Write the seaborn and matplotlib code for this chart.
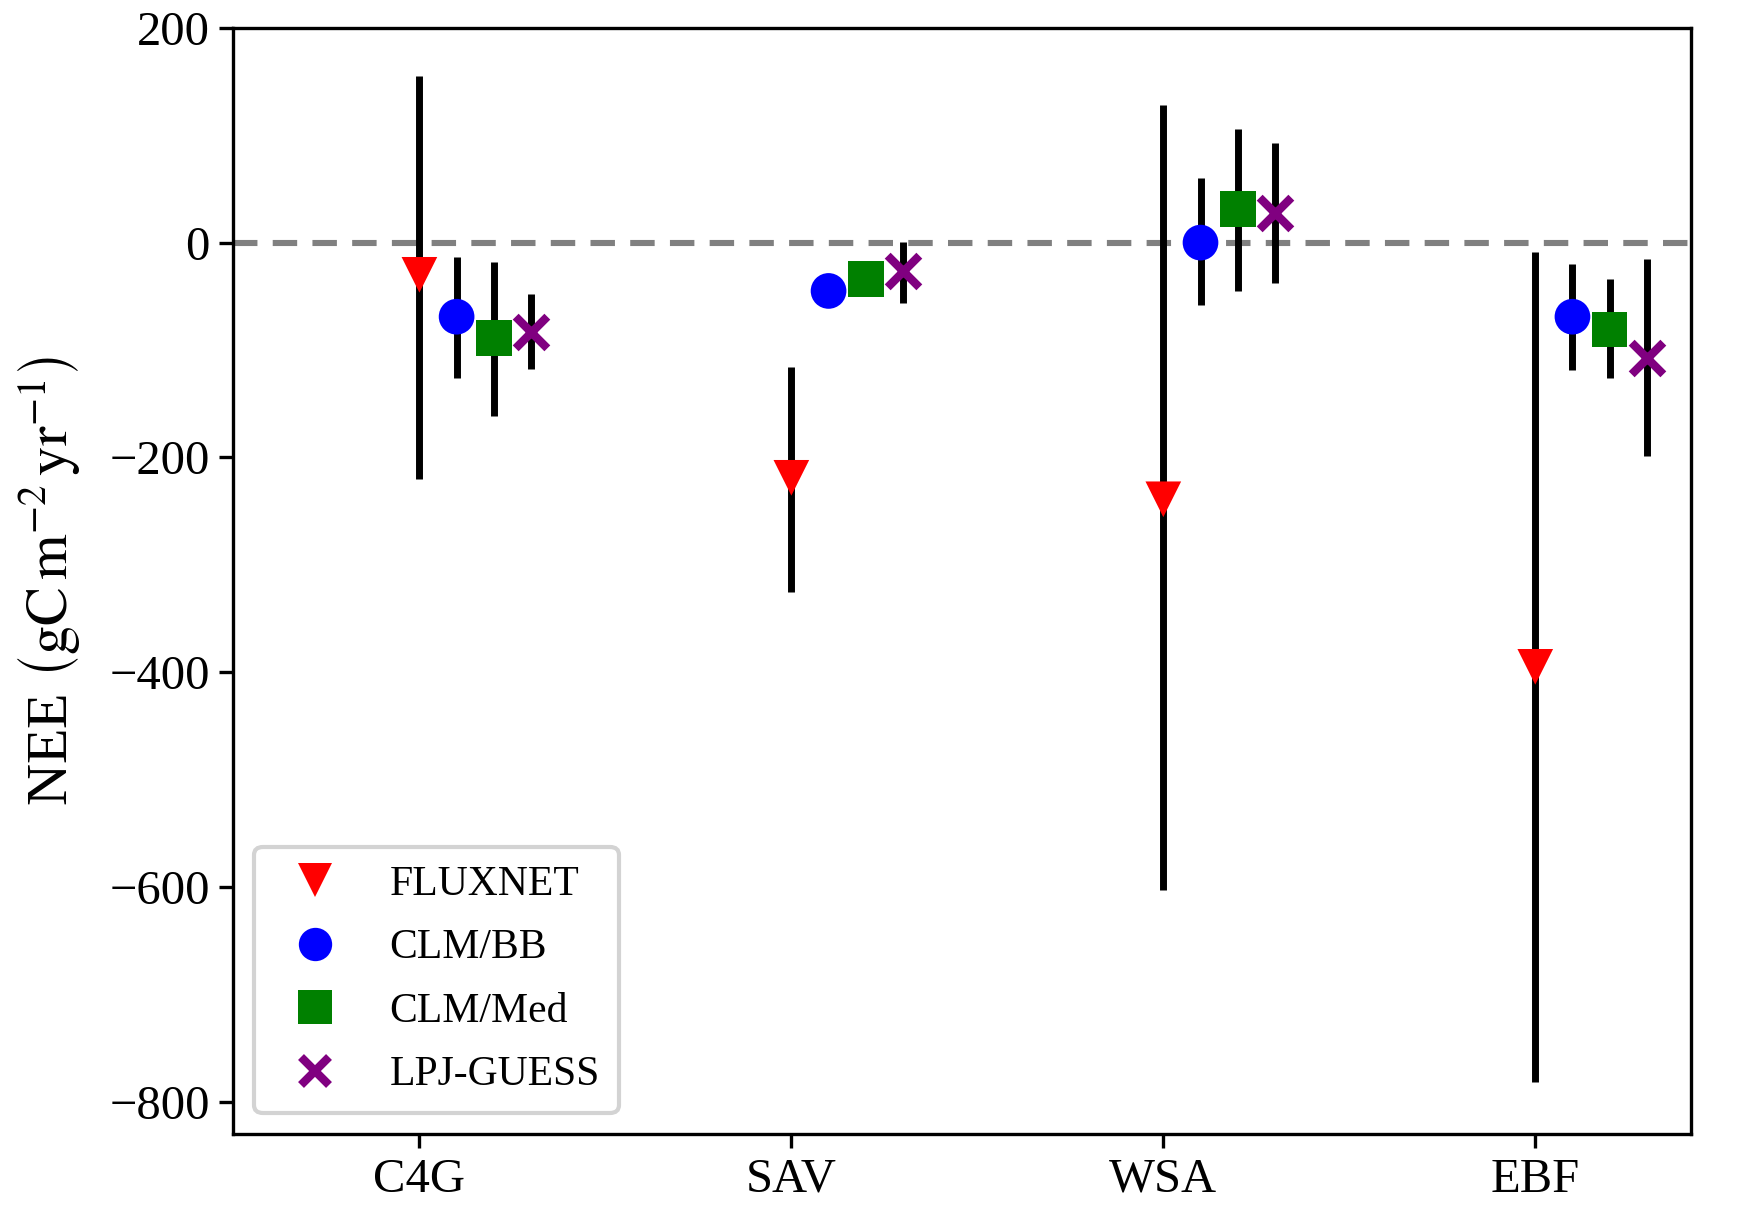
import numpy as np
import pandas as pd
import matplotlib.pyplot as plt
import seaborn as sb

# biome categories and the four data sources
biomes = ['C4G', 'SAV', 'WSA', 'EBF']
models = ['FLUXNET', 'CLM/BB', 'CLM/Med', 'LPJ-GUESS']

# NEE means (gC m-2 yr-1), one list per source, in biome order
fluxnet = [-30, -219, -239, -395]
clm_bb = [-69, -45, 0, -69]
clm_med = [-89, -34, 31, -81]
lpj = [-83, -26, 28, -107]

# error bar ends (low, high)
fluxnet_lo = [-220, -325, -603, -782]
fluxnet_hi = [155, -116, 128, -9]
clm_bb_lo = [-126, -55, -58, -119]
clm_bb_hi = [-13, -31, 60, -20]
clm_med_lo = [-161, -40, -45, -126]
clm_med_hi = [-18, -28, 106, -34]
lpj_lo = [-118, -56, -38, -199]
lpj_hi = [-48, 1, 93, -15]

means = [fluxnet, clm_bb, clm_med, lpj]
lows = [fluxnet_lo, clm_bb_lo, clm_med_lo, lpj_lo]
highs = [fluxnet_hi, clm_bb_hi, clm_med_hi, lpj_hi]

colors = {'FLUXNET': 'red', 'CLM/BB': 'blue', 'CLM/Med': 'green', 'LPJ-GUESS': 'purple'}
marks = {'FLUXNET': 'v', 'CLM/BB': 'o', 'CLM/Med': 's'}

rows = []
for j, m in enumerate(models):
    for i, b in enumerate(biomes):
        rows.append({'model': m, 'biome': b, 'pos': i + 0.1 * j,
                     'nee': means[j][i], 'lo': lows[j][i], 'hi': highs[j][i]})
df = pd.DataFrame(rows)

sb.set_style('ticks')
plt.rcParams['font.family'] = ['Liberation Serif', 'DejaVu Serif']
plt.rcParams['mathtext.fontset'] = 'stix'
for k in ['text.color', 'axes.labelcolor', 'xtick.color', 'ytick.color', 'axes.edgecolor']:
    plt.rcParams[k] = 'black'

fig, ax = plt.subplots(figsize=(8.71, 6.045), dpi=200)
fig.subplots_adjust(left=0.134, right=0.971, top=0.977, bottom=0.062)

ax.axhline(0, color='grey', ls='--', lw=2.2, dashes=(4, 2.5), zorder=1)

# error bars first, markers on top
ax.vlines(df['pos'], df['lo'], df['hi'], color='black', lw=2.5, zorder=2)

filled = df[df['model'] != 'LPJ-GUESS']
sb.scatterplot(data=filled, x='pos', y='nee', hue='model', style='model',
               palette=colors, markers=marks, s=165, linewidth=0, zorder=3,
               ax=ax, legend=False)
# x marker needs a stroke
lp = df[df['model'] == 'LPJ-GUESS']
ax.scatter(lp['pos'], lp['nee'], marker='x', s=130, color='purple', linewidths=3, zorder=4)

# legend handles built from the same styles
handles = []
for m in models:
    if m == 'LPJ-GUESS':
        h, = ax.plot([], [], ls='none', marker='x', ms=10, mew=3, color=colors[m])
    else:
        h, = ax.plot([], [], ls='none', marker=marks[m], ms=12, mew=0, color=colors[m])
    handles.append(h)
leg = ax.legend(handles, models, loc='lower left', fontsize=15, fancybox=True,
                framealpha=1, borderpad=0.45, labelspacing=0.6)
leg.get_frame().set_edgecolor('lightgrey')
leg.get_frame().set_linewidth(1.5)

ax.set_xticks(range(len(biomes)))
ax.set_xticklabels(biomes)
ax.set_xlim(-0.5, 3.42)
ax.set_ylim(-830, 200)
ax.set_yticks([200, 0, -200, -400, -600, -800])
ax.set_xlabel('')
ax.set_ylabel(r'NEE $\left(\mathrm{gC\,m^{-2}\,yr^{-1}}\right)$', fontsize=21, labelpad=10)
ax.tick_params(labelsize=17.5, length=5, width=1.2)
for s in ax.spines.values():
    s.set_linewidth(1.2)

fig.savefig('out.png', dpi=200)
